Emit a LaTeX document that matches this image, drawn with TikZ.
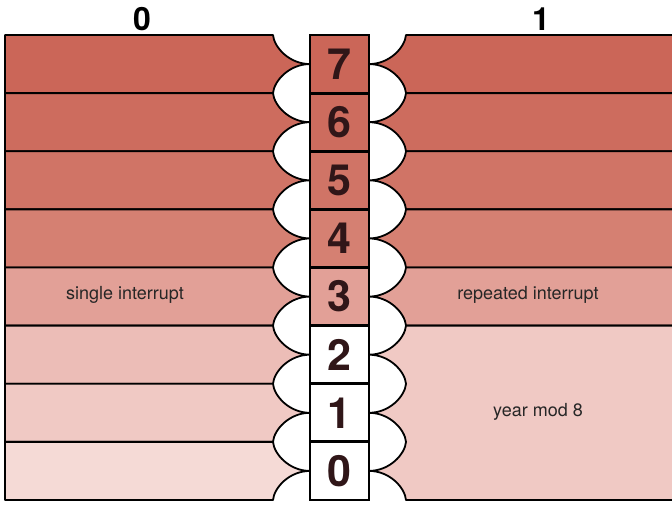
\documentclass[tikz,border=0pt]{standalone}
\usepackage{fontspec}
\setmainfont{TeX Gyre Heros}
\usetikzlibrary{positioning}
\definecolor{rowA}{RGB}{203,102,88}
\definecolor{rowB}{RGB}{205,108,94}
\definecolor{rowC}{RGB}{208,116,102}
\definecolor{rowD}{RGB}{213,128,114}
\definecolor{rowE}{RGB}{226,160,151}
\definecolor{rowF}{RGB}{236,189,183}
\definecolor{rowG}{RGB}{240,201,196}
\definecolor{rowH}{RGB}{245,218,214}
\definecolor{digit}{RGB}{48,22,24}

\begin{document}
\begin{tikzpicture}[x=1pt, y=-1pt,
      band/.style={draw=black, line width=1.8pt, line join=round},
      cell/.style={draw=black, line width=2.8pt, minimum width=59pt, minimum height=58.125pt, inner sep=0pt, font=\fontsize{43pt}{45pt}\selectfont\bfseries, text=digit},
      head/.style={font=\fontsize{32pt}{34pt}\selectfont\bfseries},
      lbl/.style={font=\fontsize{18pt}{20pt}\selectfont, text=black!85}]

      \clip (0,0) rectangle (672,504);
      \fill[white] (0,0) rectangle (672,504);

      % left: eight bands, scalloped towards the column
      \foreach \k/\col in {0/rowA, 1/rowB, 2/rowC, 3/rowD, 4/rowE, 5/rowF, 6/rowG, 7/rowH} {
        \pgfmathsetmacro{\yo}{35+58.125*\k}
        \pgfmathsetmacro{\yu}{\yo+58.125}
        \pgfmathsetmacro{\ym}{\yo+29.0625}
        \filldraw[band, fill=\col] (5,\yo) -- (273,\yo)
          .. controls (274,\yo+12) and (289,\ym) .. (310,\ym)
          .. controls (289,\ym) and (274,\yu-12) .. (273,\yu) -- (5,\yu) -- cycle;
      }

      % right: five bands, then one region for 2, 1, 0
      \foreach \k/\col in {0/rowA, 1/rowB, 2/rowC, 3/rowD, 4/rowE} {
        \pgfmathsetmacro{\yo}{35+58.125*\k}
        \pgfmathsetmacro{\yu}{\yo+58.125}
        \pgfmathsetmacro{\ym}{\yo+29.0625}
        \filldraw[band, fill=\col] (680,\yo) -- (406,\yo)
          .. controls (405,\yo+12) and (390,\ym) .. (369,\ym)
          .. controls (390,\ym) and (405,\yu-12) .. (406,\yu) -- (680,\yu) -- cycle;
      }
      \filldraw[band, fill=rowG] (680,325.6) -- (406,325.6)
        .. controls (405,337.6) and (390,354.7) .. (369,354.7)
        .. controls (390,354.7) and (405,371.8) .. (406,383.8)
        .. controls (405,395.8) and (390,412.8) .. (369,412.8)
        .. controls (390,412.8) and (405,429.9) .. (406,441.9)
        .. controls (405,453.9) and (390,470.9) .. (369,470.9)
        .. controls (390,470.9) and (405,488) .. (406,500) -- (680,500) -- cycle;

      % column of digits
      \foreach \k/\z/\col in {0/7/rowA, 1/6/rowB, 2/5/rowC, 3/4/rowD, 4/3/rowE, 5/2/white, 6/1/white, 7/0/white}
        \node[cell, fill=\col] (c\z) at (339.5, {64.0625+58.125*\k}) {\z};

      % headings and texts
      \node[head] (h0) at (142,19) {0};
      \node[head] (h1) at (541,19) {1};
      \node[lbl] (single) at (125,295) {single interrupt};
      \node[lbl] (repeated) at (528,295) {repeated interrupt};
      \node[lbl] (year) at (538,412) {year mod 8};
\end{tikzpicture}
\end{document}
